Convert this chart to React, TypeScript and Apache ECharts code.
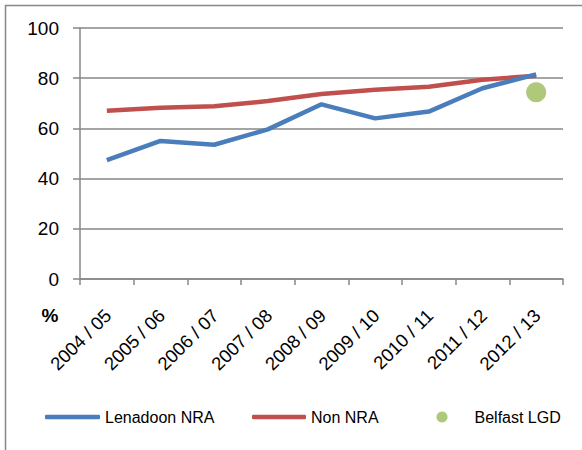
import React, { useEffect, useRef } from "react";
import * as echarts from "echarts";

const categories = ["2004 / 05", "2005 / 06", "2006 / 07", "2007 / 08", "2008 / 09", "2009 / 10", "2010 / 11", "2011 / 12", "2012 / 13"];
const lenadoon = [47.4, 55, 53.5, 59.6, 69.6, 64, 66.7, 76, 81.5];
const nonNra = [67, 68.2, 68.8, 70.9, 73.7, 75.4, 76.6, 79.4, 81];
const belfast = [null, null, null, null, null, null, null, null, 74.4];
const yTicks = [0, 20, 40, 60, 80, 100];

const FONT = "'Liberation Sans', Arial, sans-serif";
const GRAY = "#878787";
const BLUE = "#4a7ebb";
const RED = "#c0504d";
const GREEN = "#9bbb59";

export default function App() {
  const ref = useRef<HTMLDivElement>(null);
  useEffect(() => {
    if (!ref.current) return;
    const chart = echarts.init(ref.current, null, { renderer: "svg" });
    const legendText = { fontSize: 16, lineHeight: 16, color: "#000", fontFamily: FONT };
    chart.setOption({
      animation: false,
      grid: { left: 80, top: 28, width: 483, height: 251, containLabel: false },
      xAxis: {
        type: "category",
        data: categories,
        boundaryGap: true,
        axisLine: { lineStyle: { color: GRAY, width: 1.5 } },
        axisTick: { show: true, length: 6, lineStyle: { color: GRAY, width: 1.5 } },
        axisLabel: {
          rotate: 45,
          margin: 21,
          fontSize: 18.5,
          color: "#000",
          fontFamily: FONT,
          align: "right",
          verticalAlign: "top",
          padding: [0, 8, 0, 0],
        },
      },
      yAxis: {
        type: "value",
        min: yTicks[0],
        max: yTicks[yTicks.length - 1],
        interval: 20,
        axisLine: { show: true, lineStyle: { color: GRAY, width: 1.5 } },
        axisTick: { show: true, length: 7, lineStyle: { color: GRAY, width: 1.5 } },
        splitLine: { lineStyle: { color: GRAY, width: 1.5 } },
        axisLabel: { margin: 21, fontSize: 19, color: "#000", fontFamily: FONT },
      },
      legend: [
        {
          data: [{ name: "Lenadoon NRA", icon: "roundRect", itemStyle: { color: BLUE } }],
          left: 45,
          top: 409,
          padding: 0,
          itemWidth: 55,
          itemHeight: 4.5,
          itemGap: 0,
          textStyle: legendText,
        },
        {
          data: [{ name: "Non NRA", icon: "roundRect", itemStyle: { color: RED } }],
          left: 252,
          top: 409,
          padding: 0,
          itemWidth: 54,
          itemHeight: 4.5,
          itemGap: 0,
          textStyle: legendText,
        },
        {
          data: [{ name: "Belfast LGD", icon: "circle", itemStyle: { color: GREEN } }],
          left: 436.5,
          top: 409,
          padding: 0,
          itemWidth: 11,
          itemHeight: 11,
          itemGap: 0,
          textStyle: { ...legendText, padding: [0, 0, 0, 22] },
        },
      ],
      graphic: [
        {
          type: "rect",
          shape: { x: 5.5, y: 5.5, width: 700, height: 600 },
          style: { fill: "none", stroke: GRAY, lineWidth: 1.5 },
          silent: true,
          z: -10,
        },
        {
          type: "text",
          x: 50,
          y: 315,
          style: { text: "%", fontSize: 19, fontWeight: "bold", fill: "#000", fontFamily: FONT, align: "center", verticalAlign: "middle" },
        },
      ],
      series: [
        {
          name: "Lenadoon NRA",
          type: "line",
          data: lenadoon,
          symbol: "none",
          lineStyle: { color: BLUE, width: 4.5 },
          itemStyle: { color: BLUE },
          z: 3,
        },
        {
          name: "Non NRA",
          type: "line",
          data: nonNra,
          symbol: "none",
          lineStyle: { color: RED, width: 4.5 },
          itemStyle: { color: RED },
          z: 2,
        },
        {
          name: "Belfast LGD",
          type: "scatter",
          data: belfast,
          symbol: "circle",
          symbolSize: 20,
          itemStyle: { color: GREEN },
          z: 4,
        },
      ],
    });
    return () => chart.dispose();
  }, []);
  return <div ref={ref} style={{ position: "fixed", left: 0, top: 0, width: 582, height: 450, background: "#fff" }} />;
}
